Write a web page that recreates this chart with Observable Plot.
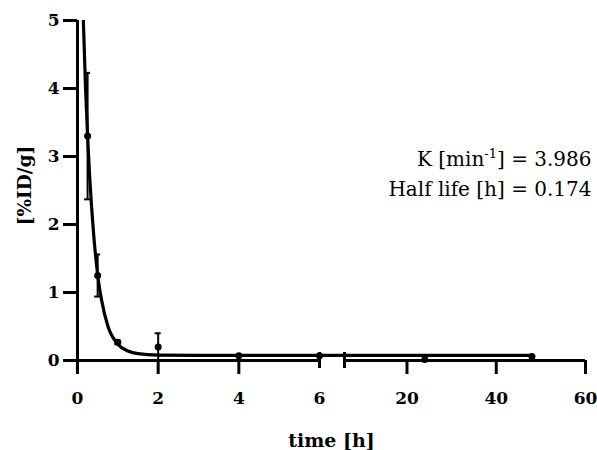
<!DOCTYPE html>
<html><head><meta charset="utf-8">
<script src="https://cdn.jsdelivr.net/npm/d3@7"></script>
<script src="https://cdn.jsdelivr.net/npm/@observablehq/plot@0.6"></script>
<style>body{margin:0;background:#fff} svg{display:block}</style>
</head><body><div id="chart"></div>
<script>
// measured data (mean ± SD)
const times = [0.25, 0.5, 1, 2, 4, 6, 24, 48];
const means = [3.3, 1.25, 0.27, 0.2, 0.07, 0.07, 0.015, 0.06];
const sds   = [0.93, 0.31, 0.03, 0.2, 0, 0, 0, 0];
// fitted one-phase decay curve
const fitTimes  = [0.12, 0.2, 0.25, 0.3, 0.4, 0.5, 0.6, 0.75, 1, 1.25, 1.5, 2, 3, 6, 24, 48];
const fitValues = [5.45, 4.0, 3.3, 2.72, 1.86, 1.26, 0.88, 0.51, 0.24, 0.14, 0.1, 0.08, 0.075, 0.075, 0.075, 0.075];
// ticks
const yTicks = [0, 1, 2, 3, 4, 5];
const xTicksA = [0, 2, 4];
const xTicksEnd = [6];
const xTicksB = [20, 40, 60];
const xLabelsA = [0, 2, 4, 6];
const yTitle = "[%ID/g]";
const xTitle = "time [h]";
const annoK = "K [min-1] = 3.986";
const annoHalf = "Half life [h] = 0.174";

const points = times.map((t, i) => ({t, m: means[i], sd: sds[i]}));
const errs = points.filter(d => d.sd > 0);
const fit = fitTimes.map((t, i) => ({t, v: fitValues[i]}));
const BREAK = 6.001;

const chart = Plot.plot({
  width: 597, height: 450,
  marginLeft: 77, marginRight: 12, marginTop: 20, marginBottom: 90,
  x: {type: "linear", domain: [0, 6, BREAK, 60], range: [77, 319, 344, 585], axis: null},
  y: {domain: [0, 5], range: [360, 20], axis: null},
  style: {fontFamily: "DejaVu Serif", background: "white", color: "black"},
  marks: [
    // axes
    Plot.ruleX([0], {y1: 0, y2: 5, stroke: "black", strokeWidth: 3}),
    Plot.ruleY([0], {x1: 0, x2: 6, stroke: "black", strokeWidth: 3}),
    Plot.ruleY([0], {x1: BREAK, x2: 60, stroke: "black", strokeWidth: 3}),
    Plot.ruleY(yTicks, {y: d => d, x1: 0, x2: 0, insetLeft: -14, stroke: "black", strokeWidth: 3}),
    Plot.ruleX([...xTicksA, ...xTicksB], {x: d => d, y1: 0, y2: 0, insetBottom: -14, stroke: "black", strokeWidth: 3}),
    Plot.ruleX([...xTicksEnd, BREAK], {x: d => d, y1: 0, y2: 0, insetTop: -8, insetBottom: -8, stroke: "black", strokeWidth: 3}),
    Plot.text(yTicks, {x: 0, y: d => d, text: d => String(d), dx: -18, textAnchor: "end", lineAnchor: "middle", fontSize: 17, fontWeight: "bold"}),
    Plot.text(xLabelsA, {x: d => d, y: 0, text: d => String(d), dy: 38, lineAnchor: "middle", fontSize: 17, fontWeight: "bold"}),
    Plot.text(xTicksB, {x: d => d, y: 0, text: d => String(d), dy: 38, lineAnchor: "middle", fontSize: 17, fontWeight: "bold"}),
    Plot.text([xTitle], {frameAnchor: "bottom", text: d => d, dy: 80, textAnchor: "middle", lineAnchor: "middle", fontSize: 19, fontWeight: "bold"}),
    Plot.text([yTitle], {frameAnchor: "left", text: d => d, dx: -52, dy: -5, rotate: -90, textAnchor: "middle", lineAnchor: "middle", fontSize: 18.5, fontWeight: "bold"}),
    // fit curve
    Plot.line(fit, {x: "t", y: "v", curve: "monotone-x", stroke: "black", strokeWidth: 3.2, clip: true}),
    // error bars
    Plot.ruleX(errs, {x: "t", y1: d => Math.max(0, d.m - d.sd), y2: d => d.m + d.sd, stroke: "black", strokeWidth: 2}),
    Plot.ruleY(errs, {y: d => d.m + d.sd, x1: "t", x2: "t", insetLeft: -3, insetRight: -3, stroke: "black", strokeWidth: 2}),
    Plot.ruleY(errs.filter(d => d.m - d.sd > 0.02), {y: d => d.m - d.sd, x1: "t", x2: "t", insetLeft: -3, insetRight: -3, stroke: "black", strokeWidth: 2}),
    // points
    Plot.dot(points, {x: "t", y: "m", r: 3.5, fill: "black", stroke: "none"}),
    // annotation
    Plot.text([annoK], {frameAnchor: "top-right", text: d => d, dx: 6, dy: 138.6, textAnchor: "end", lineAnchor: "middle", fontSize: 20}),
    Plot.text([annoHalf], {frameAnchor: "top-right", text: d => d, dx: 6, dy: 168.6, textAnchor: "end", lineAnchor: "middle", fontSize: 20})
  ]
});
document.getElementById("chart").appendChild(chart);

// superscript for min-1
d3.select(chart).selectAll("text").each(function() {
  if (this.textContent === annoK) {
    const el = d3.select(this);
    el.text("");
    el.append("tspan").text("K [min");
    el.append("tspan").attr("dy", -8).attr("font-size", 13).text("-1");
    el.append("tspan").attr("dy", 8).text("] = 3.986");
  }
});
</script>
</body></html>
